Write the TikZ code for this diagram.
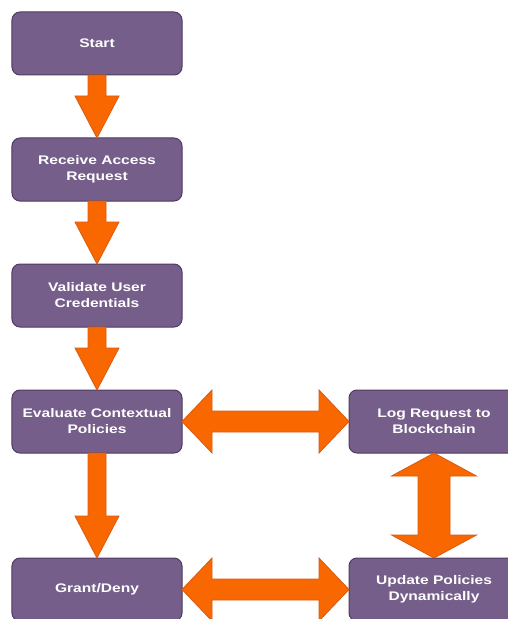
\documentclass[tikz,border=0pt]{standalone}
\usepackage{fontspec}
\setmainfont{Liberation Sans}[FakeStretch=1.25]
\usetikzlibrary{calc}
\definecolor{boxfill}{HTML}{765E8A}
\definecolor{boxline}{HTML}{4E3B61}
\definecolor{arrowfill}{HTML}{F96800}
\definecolor{arrowline}{HTML}{D85A12}

% fat single arrow pointing down, from the bottom of #1 to the top of #2
\newcommand\fatdown[2]{%
  \path[fat] let \p1=(#1.south), \p2=(#2.north) in
    ({\x1-9bp},\y1) -- ({\x1+9bp},\y1) -- ({\x1+9bp},{\y2+42bp})
    -- ({\x1+22bp},{\y2+42bp}) -- (\x1,\y2) -- ({\x1-22bp},{\y2+42bp})
    -- ({\x1-9bp},{\y2+42bp}) -- cycle;}

% fat two-headed arrow, horizontal, between #1 (left) and #2 (right)
\newcommand\fathboth[2]{%
  \path[fat] let \p1=(#1.east), \p2=(#2.west) in
    (\x1,\y1) -- ({\x1+30bp},{\y1+31.5bp}) -- ({\x1+30bp},{\y1+10.5bp})
    -- ({\x2-30bp},{\y1+10.5bp}) -- ({\x2-30bp},{\y1+31.5bp}) -- (\x2,\y1)
    -- ({\x2-30bp},{\y1-31.5bp}) -- ({\x2-30bp},{\y1-10.5bp})
    -- ({\x1+30bp},{\y1-10.5bp}) -- ({\x1+30bp},{\y1-31.5bp}) -- cycle;}

% fat two-headed arrow, vertical, between #1 (top) and #2 (bottom)
\newcommand\fatvboth[2]{%
  \path[fat] let \p1=(#1.south), \p2=(#2.north) in
    (\x1,\y1) -- ({\x1+42.5bp},{\y1-23bp}) -- ({\x1+16bp},{\y1-23bp})
    -- ({\x1+16bp},{\y2+23bp}) -- ({\x1+42.5bp},{\y2+23bp}) -- (\x1,\y2)
    -- ({\x1-42.5bp},{\y2+23bp}) -- ({\x1-16bp},{\y2+23bp})
    -- ({\x1-16bp},{\y1-23bp}) -- ({\x1-42.5bp},{\y1-23bp}) -- cycle;}

\begin{document}
\begin{tikzpicture}[x=1bp,y=-1bp,
  box/.style={draw=boxline, line width=1bp, fill=boxfill, rounded corners=8bp,
    minimum width=170bp, minimum height=63bp, inner sep=0pt, outer sep=0pt,
    text=white, align=center, font=\fontsize{12.5}{16}\selectfont\bfseries},
  fat/.style={fill=arrowfill, draw=arrowline, line width=0.8bp, line join=miter}]
\useasboundingbox (0,0) rectangle (508,619);

% process steps
\node[box] (start)    at (97,43.5)   {Start};
\node[box] (receive)  at (97,169.5)  {Receive Access\\Request};
\node[box] (validate) at (97,295.5)  {Validate User\\Credentials};
\node[box] (evaluate) at (97,421.5)  {Evaluate Contextual\\Policies};
\node[box] (grant)    at (97,589.5)  {Grant/Deny};
\node[box] (log)      at (434,421.5) {Log Request to\\Blockchain};
\node[box] (update)   at (434,589.5) {Update Policies\\Dynamically};

% connectors
\fatdown{start}{receive}
\fatdown{receive}{validate}
\fatdown{validate}{evaluate}
\fatdown{evaluate}{grant}
\fathboth{evaluate}{log}
\fathboth{grant}{update}
\fatvboth{log}{update}
\end{tikzpicture}
\end{document}
